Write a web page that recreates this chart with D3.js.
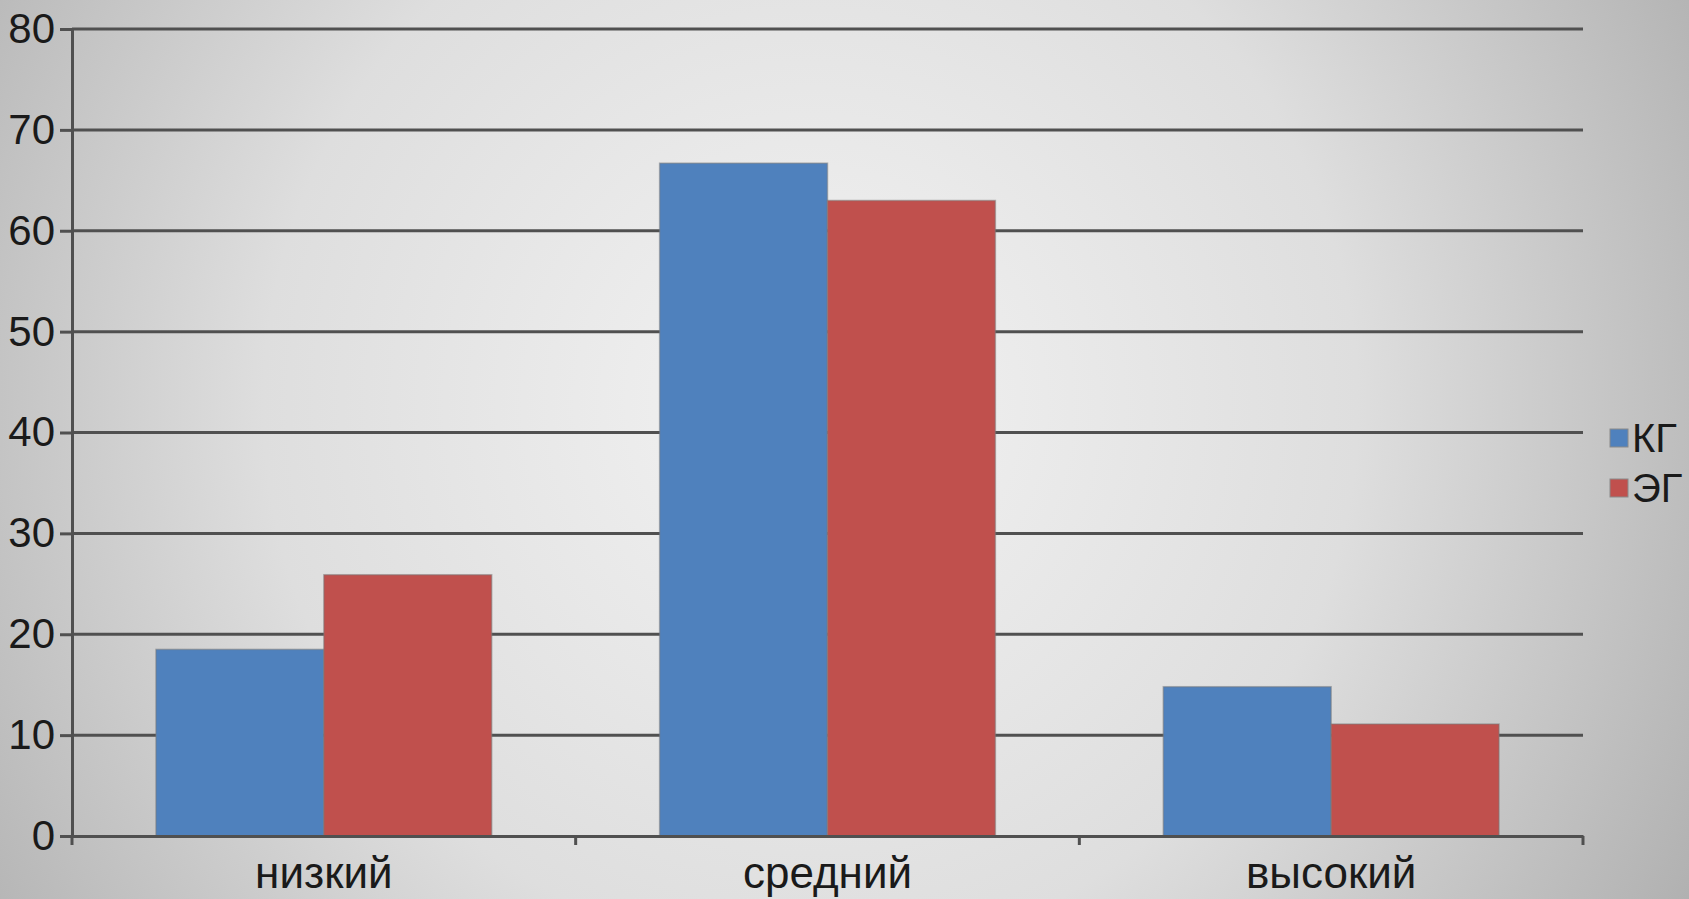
<!DOCTYPE html>
<html>
<head>
<meta charset="utf-8">
<script src="https://cdn.jsdelivr.net/npm/d3@7"></script>
<style>
  html, body { margin: 0; padding: 0; overflow: hidden; }
  text { font-family: "Liberation Sans", Arial, sans-serif; fill: #1a1a1a; }
</style>
</head>
<body>
<div id="chart"></div>
<script>
// Data
const categories = ["низкий", "средний", "высокий"];
const seriesNames = ["КГ", "ЭГ"];
const kgValues = [18.5, 66.7, 14.8];
const egValues = [25.9, 63.0, 11.1];
const yTicks = [0, 10, 20, 30, 40, 50, 60, 70, 80];
const colors = ["#4f81bd", "#c0504d"];

// Dimensions
const width = 1689;
const height = 899;
const margin = {top: 29, right: 106, bottom: 63, left: 72};
const innerWidth = width - margin.left - margin.right;
const innerHeight = height - margin.top - margin.bottom;

const svg = d3.select("#chart")
  .append("svg")
    .attr("width", width)
    .attr("height", height);

// Background gradient
const defs = svg.append("defs");
const bg = defs.append("radialGradient")
  .attr("id", "bg")
  .attr("cx", "48%").attr("cy", "45%")
  .attr("r", "72%")
  .attr("gradientTransform", "translate(0.48,0.45) scale(1,1.9) translate(-0.48,-0.45)");
bg.append("stop").attr("offset", "0%").attr("stop-color", "#f3f3f3");
bg.append("stop").attr("offset", "45%").attr("stop-color", "#dedede");
bg.append("stop").attr("offset", "100%").attr("stop-color", "#9c9c9c");

svg.append("rect")
  .attr("width", width)
  .attr("height", height)
  .attr("fill", "url(#bg)");

const inner = svg.append("g")
  .attr("transform", `translate(${margin.left}, ${margin.top})`);

// Scales
const x0 = d3.scaleBand().domain(categories).range([0, innerWidth]).paddingInner(0).paddingOuter(0);
const x1 = d3.scaleBand().domain(seriesNames).range([x0.bandwidth() / 6, x0.bandwidth() * 5 / 6]);
const y = d3.scaleLinear().domain([0, 80]).range([innerHeight, 0]);

// Gridlines
inner.selectAll(".grid")
  .data(yTicks.filter(d => d > 0))
  .join("line")
    .attr("class", "grid")
    .attr("x1", 0).attr("x2", innerWidth)
    .attr("y1", d => y(d)).attr("y2", d => y(d))
    .attr("stroke", "#505050")
    .attr("stroke-width", 3);

// Bars
const rows = categories.map((c, i) => ({cat: c, vals: [kgValues[i], egValues[i]]}));
const groups = inner.selectAll(".grp")
  .data(rows)
  .join("g")
    .attr("transform", d => `translate(${x0(d.cat)}, 0)`);

groups.selectAll("rect")
  .data(d => d.vals.map((v, j) => ({key: seriesNames[j], v: v, j: j})))
  .join("rect")
    .attr("x", d => x1(d.key))
    .attr("width", x1.bandwidth())
    .attr("y", d => y(d.v))
    .attr("height", d => innerHeight - y(d.v))
    .attr("fill", d => colors[d.j])
    .attr("stroke", "#7a7a7a")
    .attr("stroke-opacity", 0.5)
    .attr("stroke-width", 1.5);

// y axis
const yAxis = d3.axisLeft(y).tickValues(yTicks).tickSize(12).tickPadding(5);
const gy = inner.append("g").call(yAxis);
gy.select(".domain").attr("stroke", "#505050").attr("stroke-width", 3);
gy.selectAll(".tick line").attr("stroke", "#505050").attr("stroke-width", 3);
gy.selectAll(".tick text")
  .attr("font-size", 42)
  .attr("fill", "#1a1a1a")
  .style("font-family", "'Liberation Sans', Arial, sans-serif");

// x axis
const xAxis = d3.axisBottom(x0).tickSize(0).tickPadding(0);
const gx = inner.append("g")
  .attr("transform", `translate(0, ${innerHeight})`)
  .call(xAxis);
gx.select(".domain").attr("stroke", "#505050").attr("stroke-width", 3);
gx.selectAll(".tick text")
  .attr("y", 52)
  .attr("dy", null)
  .attr("font-size", 44)
  .attr("fill", "#1a1a1a")
  .style("font-family", "'Liberation Sans', Arial, sans-serif");

// category separator ticks
gx.selectAll(".sep")
  .data([0, 1, 2, 3])
  .join("line")
    .attr("class", "sep")
    .attr("x1", d => d * x0.step()).attr("x2", d => d * x0.step())
    .attr("y1", 0).attr("y2", 9)
    .attr("stroke", "#505050")
    .attr("stroke-width", 3);

// Legend
const legend = svg.append("g")
  .attr("transform", `translate(1610, 438)`);
const li = legend.selectAll("g")
  .data(seriesNames)
  .join("g")
    .attr("transform", (d, i) => `translate(0, ${i * 50})`);
li.append("rect")
  .attr("x", 0).attr("y", -9)
  .attr("width", 18).attr("height", 18)
  .attr("fill", (d, i) => colors[i])
  .attr("stroke", "#8a8a8a")
  .attr("stroke-width", 1);
li.append("text")
  .attr("x", 22)
  .attr("y", 0)
  .attr("dy", "0.36em")
  .attr("font-size", 40)
  .text(d => d);
</script>
</body>
</html>
